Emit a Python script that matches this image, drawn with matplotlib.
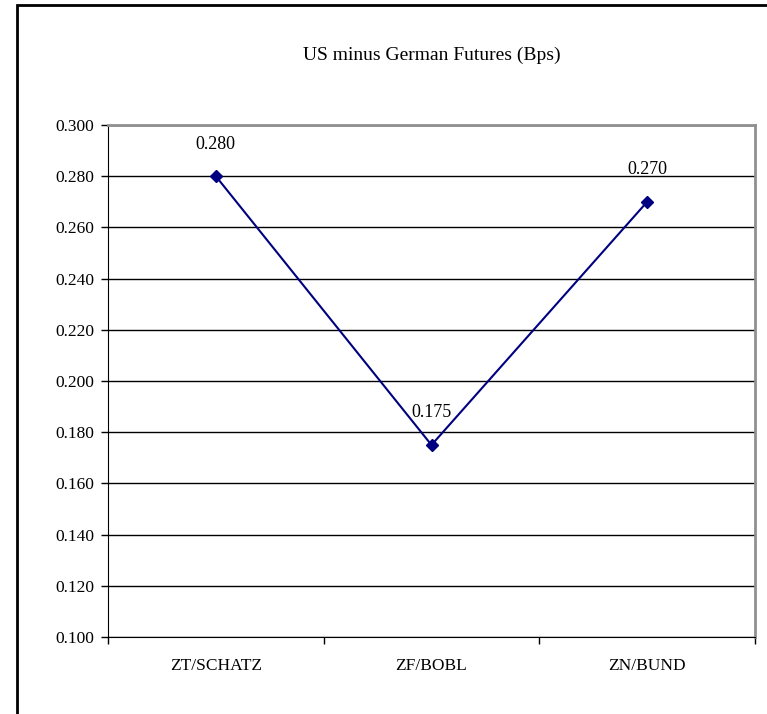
import matplotlib.pyplot as plt
from matplotlib.patches import Rectangle
from matplotlib.ticker import MultipleLocator, FormatStrFormatter

# data
categories = ['ZT/SCHATZ', 'ZF/BOBL', 'ZN/BUND']
spread = [0.280, 0.175, 0.270]
labels = ['0.280', '0.175', '0.270']

plt.rcParams['font.family'] = ['Liberation Serif', 'DejaVu Serif']

fig = plt.figure(figsize=(7.67, 7.14), dpi=100)
ax = fig.add_axes([108 / 767, 1 - 637 / 714, (755 - 108) / 767, (637 - 125) / 714])

# outer chart frame (only left/top show inside the image)
fig.patches.append(Rectangle((17 / 767, -0.1), 1.2, 1 - 5 / 714 + 0.1,
                             transform=fig.transFigure, fill=False,
                             edgecolor='black', linewidth=2))

x = [0.5, 1.5, 2.5]
ax.plot(x, spread, color='#000080', linewidth=1.5, marker='D', markersize=6,
        markerfacecolor='#000080', markeredgecolor='#000080', zorder=3)

for xi, yi, lab in zip(x, spread, labels):
    ax.annotate(lab, (xi, yi), xytext=(0, 17), textcoords='offset points',
                ha='center', va='bottom', fontsize=13, color='black')

ax.set_xlim(0, 3)
ax.set_ylim(0.1, 0.3)
ax.yaxis.set_major_locator(MultipleLocator(0.02))
ax.yaxis.set_major_formatter(FormatStrFormatter('%.3f'))
ax.grid(axis='y', color='black', linewidth=1)
ax.set_axisbelow(True)

ax.set_xticks([0, 1, 2, 3])
ax.set_xticklabels([])
ax.set_xticks(x, minor=True)
ax.set_xticklabels(categories, minor=True)
ax.tick_params(axis='x', which='minor', length=0, pad=15, labelsize=12.5)
ax.tick_params(axis='x', which='major', direction='out', length=5, width=1)
ax.tick_params(axis='y', direction='out', length=5, width=1, pad=5, labelsize=12.5)

ax.spines['left'].set_color('black')
ax.spines['bottom'].set_color('black')
ax.spines['top'].set_color('#909090')
ax.spines['right'].set_color('#909090')
ax.spines['top'].set_linewidth(2)
ax.spines['right'].set_linewidth(2)

fig.text((108 + 755) / 2 / 767, 1 - 55 / 714, 'US minus German Futures (Bps)',
         ha='center', va='center', fontsize=14)

fig.savefig('out.png', dpi=100)
